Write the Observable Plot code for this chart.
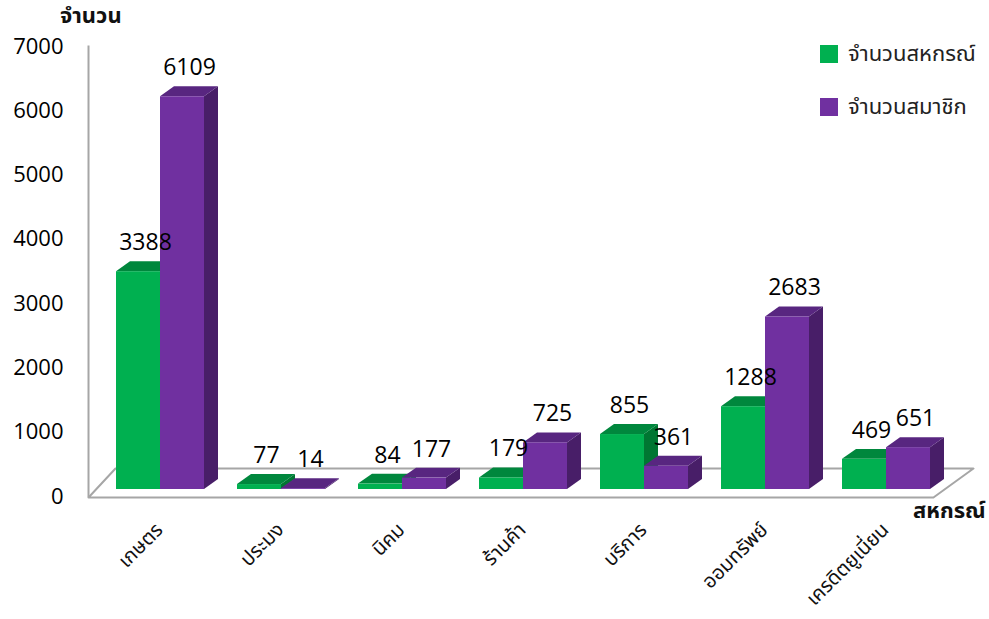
<!DOCTYPE html>
<html>
<head>
<meta charset="utf-8">
<script src="https://cdn.jsdelivr.net/npm/d3@7"></script>
<script src="https://cdn.jsdelivr.net/npm/@observablehq/plot@0.6"></script>
<style>
  html, body { margin: 0; padding: 0; background: #fff; }
  #wrap { position: relative; width: 989px; height: 619px; overflow: hidden; }
  .thai { font-family: "Noto Sans Thai", "Noto Serif Thai", "Garuda", "Loma", "Norasi", "Tlwg Typo", "Noto Sans", "DejaVu Sans", sans-serif; }
  .legend { position: absolute; left: 820px; top: 39px; font-size: 22px; color: #222; }
  .legend .item { display: flex; align-items: center; height: 30px; margin-bottom: 23px; }
  .legend .sw { width: 18px; height: 18px; margin-right: 10px; }
  .ytitle { position: absolute; left: 60px; top: 0px; font-size: 22px; font-weight: bold; color: #111; }
  .xtitle { position: absolute; left: 913px; top: 495px; font-size: 22px; font-weight: bold; color: #111; }
</style>
</head>
<body>
<div id="wrap"></div>
<script>
// ---- data ----
const categories = ["เกษตร", "ประมง", "นิคม", "ร้านค้า", "บริการ", "ออมทรัพย์", "เครดิตยูเนี่ยน"];
const seriesNames = ["จำนวนสหกรณ์", "จำนวนสมาชิก"];
const cooperatives = [3388, 77, 84, 179, 855, 1288, 469];
const members = [6109, 14, 177, 725, 361, 2683, 651];
const yTicks = [0, 1000, 2000, 3000, 4000, 5000, 6000, 7000];
const yTitle = "จำนวน";
const xTitle = "สหกรณ์";

// ---- styles / geometry (in scale units) ----
const frontColors = ["#00B050", "#7030A0"];
const topColors = ["#00873D", "#582680"];
const sideColors = ["#007632", "#481E68"];
const BW = 44 / 121;     // bar width in category units
const DX = 14 / 121;     // depth offset x
const DY = 155;          // depth offset y (value units)
const thaiFont = '"Noto Sans Thai", "Noto Serif Thai", "Garuda", "Loma", "Norasi", "Tlwg Typo", "Noto Sans", "DejaVu Sans", sans-serif';

const seriesValues = [cooperatives, members];
const bars = [];
categories.forEach((c, i) => {
  seriesValues.forEach((vals, s) => {
    const xl = i - BW + s * BW;
    bars.push({ id: i * 2 + s, cat: c, s, xl, xr: xl + BW, v: vals[i] });
  });
});
const sidePts = bars.flatMap(b => [
  { id: b.id, s: b.s, x: b.xr, y1: 0, y2: b.v },
  { id: b.id, s: b.s, x: b.xr + DX, y1: DY, y2: b.v + DY }
]);
const topPts = bars.flatMap(b => [
  { id: b.id, s: b.s, y: b.v, x1: b.xl, x2: b.xr },
  { id: b.id, s: b.s, y: b.v + DY, x1: b.xl + DX, x2: b.xr + DX }
]);

// floor parallelogram (in scale units)
const fl = { fx0: -0.595, fx1: 6.388, bx0: -0.372, bx1: 6.719, fy: -124, by: 327 };
const floor = [
  { x: fl.fx0, y: fl.fy }, { x: fl.fx1, y: fl.fy }, { x: fl.bx1, y: fl.by },
  { x: fl.bx0, y: fl.by }, { x: fl.fx0, y: fl.fy }
];

const chart = Plot.plot({
  width: 989,
  height: 619,
  marginLeft: 99.5,
  marginRight: 42.5,
  marginTop: 39,
  marginBottom: 130,
  style: { fontFamily: "'Open Sans', 'Noto Sans', sans-serif", background: "transparent", overflow: "visible" },
  x: { type: "linear", domain: [-0.5, 6.5], axis: null },
  y: { domain: [0, 7000], axis: null },
  marks: [
    // floor + left wall edge
    Plot.line(floor, { x: "x", y: "y", stroke: "#A6A6A6", strokeWidth: 2 }),
    Plot.ruleX([fl.fx0], { y1: fl.fy, y2: 6900, stroke: "#A6A6A6", strokeWidth: 2 }),
    // y tick labels
    Plot.text(yTicks, { x: fl.fx0, y: d => d, text: d => String(d), textAnchor: "end", dx: -25, dy: 7, fontSize: 22, fill: "#000" }),
    // bar sides, tops, fronts
    Plot.areaY(sidePts, { x: "x", y1: "y1", y2: "y2", z: "id", fill: d => sideColors[d.s] }),
    Plot.areaX(topPts, { y: "y", x1: "x1", x2: "x2", z: "id", fill: d => topColors[d.s] }),
    Plot.rectY(bars, { x1: "xl", x2: "xr", y1: 0, y2: "v", fill: d => frontColors[d.s] }),
    // value labels
    Plot.text(bars, { x: d => (d.xl + d.xr + DX) / 2, y: d => d.v + DY, dy: -19, text: d => String(d.v), fontSize: 23, fill: "#000" }),
    // category labels
    Plot.text(categories, { x: (d, i) => i, y: 0, dx: -1, dy: 37, text: d => d, rotate: -45, textAnchor: "end", fontSize: 20, fontFamily: thaiFont, fill: "#111" })
  ]
});

const wrap = document.getElementById("wrap");
wrap.appendChild(chart);

const yt = document.createElement("div");
yt.className = "ytitle thai"; yt.textContent = yTitle; wrap.appendChild(yt);
const xt = document.createElement("div");
xt.className = "xtitle thai"; xt.textContent = xTitle; wrap.appendChild(xt);

const lg = document.createElement("div");
lg.className = "legend thai";
seriesNames.forEach((n, s) => {
  const it = document.createElement("div"); it.className = "item";
  const sw = document.createElement("div"); sw.className = "sw"; sw.style.background = frontColors[s];
  const tx = document.createElement("span"); tx.textContent = n;
  it.appendChild(sw); it.appendChild(tx); lg.appendChild(it);
});
wrap.appendChild(lg);
</script>
</body>
</html>
